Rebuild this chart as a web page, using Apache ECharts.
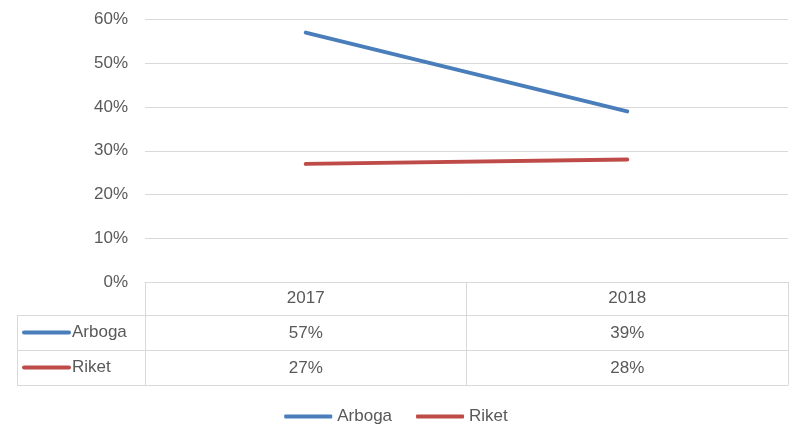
<!DOCTYPE html>
<html><head><meta charset="utf-8">
<script src="https://cdn.jsdelivr.net/npm/echarts@6/dist/echarts.min.js"></script>
<style>html,body{margin:0;padding:0;background:#fff}#c{width:792px;height:427px}</style>
</head><body><div id="c"></div>
<script>
var categories = ['2017', '2018'];
var seriesNames = ['Arboga', 'Riket'];
var arboga = [0.57, 0.39];
var riket = [0.27, 0.28];
var yTicks = [0, 0.1, 0.2, 0.3, 0.4, 0.5, 0.6];
var colors = ['#4A7EBB', '#BE4B48'];
var values = [arboga, riket];
var font = 'Liberation Sans';
var fs = 17;
var txt = '#595959';
var gridC = '#d9d9d9';
function pct(v){ return Math.round(v*100) + '%'; }

var chart = echarts.init(document.getElementById('c'));
var rowY = [332.5, 367.5];
var graphics = [];
[315, 350, 385].forEach(function(y){
  graphics.push({type:'line', shape:{x1:17,y1:y+0.5,x2:788,y2:y+0.5}, style:{stroke:gridC,lineWidth:1}, silent:true});
});
graphics.push({type:'line', shape:{x1:17.5,y1:315,x2:17.5,y2:385}, style:{stroke:gridC,lineWidth:1}, silent:true});
seriesNames.forEach(function(n,i){
  graphics.push({type:'line', shape:{x1:24,y1:rowY[i],x2:69,y2:rowY[i]}, style:{stroke:colors[i],lineWidth:4,lineCap:'round'}, silent:true});
  graphics.push({type:'text', x:72, y:rowY[i], style:{text:n, fill:txt, font:fs+'px "'+font+'"', verticalAlign:'middle', align:'left'}, silent:true});
});

chart.setOption({
  animation:false,
  grid:{left:145, right:4, top:19.5, bottom:145, containLabel:false},
  legend:{
    data:seriesNames, bottom:-3, left:'center', icon:'roundRect', itemWidth:48, itemHeight:4, itemGap:24,
    textStyle:{color:txt, fontFamily:font, fontSize:fs}
  },
  xAxis:[
    {type:'category', data:categories, boundaryGap:true, position:'bottom',
     axisLine:{show:true, lineStyle:{color:gridC}},
     axisTick:{show:true, inside:false, length:103, lineStyle:{color:gridC}},
     axisLabel:{color:txt, fontFamily:font, fontSize:fs, margin:8}},
    {type:'category', data:categories, boundaryGap:true, position:'bottom', offset:35,
     axisLine:{show:false}, axisTick:{show:false},
     axisLabel:{color:txt, fontFamily:font, fontSize:fs, margin:8, formatter:function(v,i){return pct(arboga[i]);}}},
    {type:'category', data:categories, boundaryGap:true, position:'bottom', offset:70,
     axisLine:{show:false}, axisTick:{show:false},
     axisLabel:{color:txt, fontFamily:font, fontSize:fs, margin:8, formatter:function(v,i){return pct(riket[i]);}}}
  ],
  yAxis:{type:'value', min:yTicks[0], max:yTicks[yTicks.length-1], interval:0.1,
    axisLine:{show:false}, axisTick:{show:false},
    splitLine:{lineStyle:{color:gridC}},
    axisLabel:{color:txt, fontFamily:font, fontSize:fs, margin:17, formatter:function(v){return pct(v);}}},
  series: seriesNames.map(function(n,i){
    return {name:n, type:'line', data:values[i], xAxisIndex:0, showSymbol:false, symbol:'none',
      lineStyle:{color:colors[i], width:4, cap:'round'}, itemStyle:{color:colors[i]}};
  }),
  graphic: graphics
});
</script></body></html>
